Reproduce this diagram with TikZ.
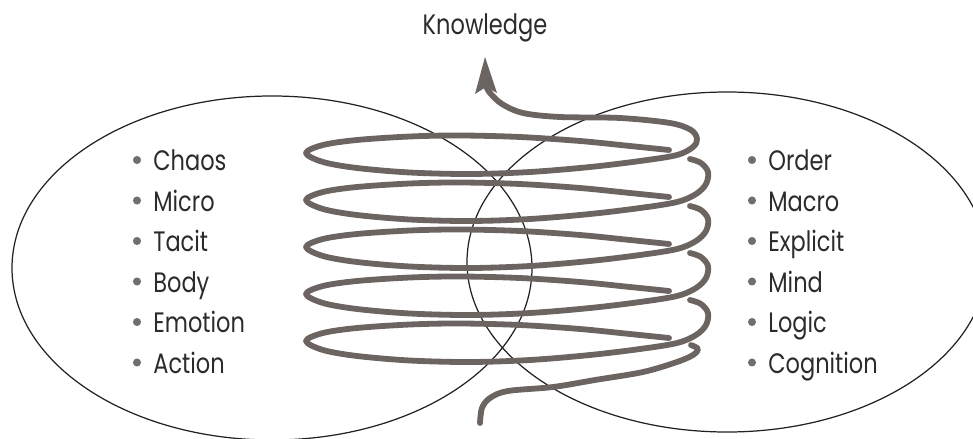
\documentclass[tikz,border=0pt]{standalone}
\usepackage{fontspec}
\setmainfont[FakeStretch=0.8]{Poppins}
\definecolor{strandc}{RGB}{108,100,96}
\definecolor{inkc}{RGB}{35,33,33}
\definecolor{textc}{RGB}{45,42,42}
\definecolor{dotc}{RGB}{115,110,110}
\tikzset{
  strand/.style={draw=strandc, line width=3.3pt, line cap=round, line join=round},
  oval/.style={draw=inkc, line width=0.7pt},
  item/.style={anchor=base west, inner sep=0pt, text=textc, font=\fontsize{16}{18}\selectfont},
  bullet/.style={fill=dotc},
}
\begin{document}
\begin{tikzpicture}[x=0.02cm, y=-0.02cm]
\useasboundingbox (0,0) rectangle (973,439);
\clip (0,0) rectangle (973,439);
% the two ovals
\draw[oval] (272,268) ellipse [x radius=260, y radius=172];
\draw[oval] (727,262) ellipse [x radius=260, y radius=170];
% lists
\foreach \t/\yy [count=\i] in {Chaos/160, Micro/200.5, Tacit/241, Body/281.5, Emotion/322, Action/362.5}{
  \fill[bullet] (137,\yy) circle [radius=2.3pt];
  \node[item] (lt\i) at (153,{\yy+10.5}) {\t};
}
\foreach \t/\yy [count=\i] in {Order/160, Macro/200.5, Explicit/241, Mind/281.5, Logic/322, Cognition/362.5}{
  \fill[bullet] (752,\yy) circle [radius=2.3pt];
  \node[item] (rt\i) at (768,{\yy+10.5}) {\t};
}
\node[anchor=base, inner sep=0pt, text=textc, font=\fontsize{16}{18}\selectfont] (know) at (485,35) {Knowledge};
% spiral: loops 2..5
\foreach \y in {200,247,294,341}{
  \draw[strand] plot[smooth, tension=0.55] coordinates {
    (669,{\y-3}) (630,{\y-7}) (580,{\y-12}) (520,{\y-16}) (460,{\y-17.5}) (410,{\y-16.5})
    (357,{\y-13}) (323,{\y-8}) (306,\y) (323,{\y+9}) (357,{\y+15}) (410,{\y+19.5})
    (470,{\y+21}) (530,{\y+19}) (590,{\y+14}) (640,{\y+8}) (677,{\y+2}) (696,{\y-6})
    (706,{\y-16}) (708,{\y-28}) (701,{\y-37}) (690,{\y-41})};
}
% loop 1 running up to the arrow
\def\y{153}
\draw[strand] plot[smooth, tension=0.55] coordinates {
    (669,{\y-3}) (630,{\y-7}) (580,{\y-12}) (520,{\y-16}) (460,{\y-17.5}) (410,{\y-16.5})
    (357,{\y-13}) (323,{\y-8}) (306,\y) (323,{\y+9}) (357,{\y+15}) (410,{\y+19.5})
    (470,{\y+21}) (530,{\y+19}) (590,{\y+14}) (640,{\y+8}) (677,{\y+2}) (693,147)
    (697,139) (691,130) (670,123) (620,118) (560,117) (523,113) (502,104) (490,93) (486,86)};
\fill[strandc] (485,57) -- (475,94) -- (486,87) -- (497,93) -- cycle;
% start strand at the bottom
\draw[strand] plot[smooth, tension=0.55] coordinates {
    (480,423) (482,408) (490,398) (508,391) (553,387) (595,380) (643,372) (677,362)
    (693,355) (698,349) (691,345)};
\end{tikzpicture}
\end{document}
